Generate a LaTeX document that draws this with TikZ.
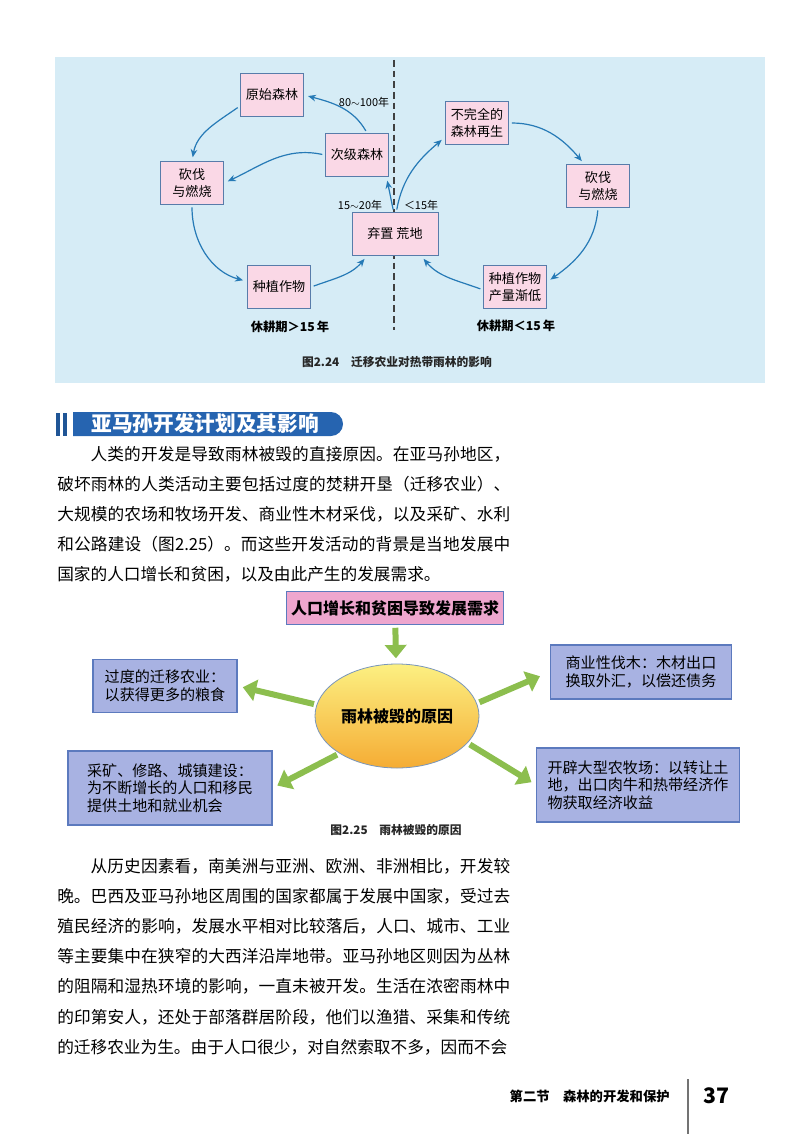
\documentclass[tikz,border=0pt]{standalone}
\usepackage{fontspec}
\setmainfont{Noto Sans CJK SC}
\usetikzlibrary{arrows.meta, positioning, shapes.geometric}
\XeTeXlinebreaklocale "zh"
\XeTeXlinebreakskip=0pt plus 2pt

\definecolor{panelblue}{RGB}{214,236,246}
\definecolor{stagepink}{RGB}{250,216,230}
\definecolor{stageedge}{RGB}{88,124,170}
\definecolor{flowblue}{RGB}{38,122,182}
\definecolor{bannerblue}{RGB}{38,100,176}
\definecolor{causeblue}{RGB}{168,178,226}
\definecolor{causeedge}{RGB}{92,122,190}
\definecolor{needpink}{RGB}{238,166,206}
\definecolor{leafgreen}{RGB}{140,190,78}
\definecolor{sunyellow}{RGB}{252,240,130}
\definecolor{sunorange}{RGB}{245,172,52}

\begin{document}
\begin{tikzpicture}[
  x=0.75pt, y=0.75pt,
  font=\fontsize{9.4}{12}\selectfont,
  stage/.style={draw=stageedge, fill=stagepink, line width=0.7pt, align=center,
                minimum width=47.5pt, minimum height=32pt, inner sep=1pt,
                font=\fontsize{9.8}{12.2}\selectfont},
  flow/.style={draw=flowblue, line width=0.9pt, -{Stealth[length=6pt, width=5pt]},
               shorten <=2pt, shorten >=3pt},
  years/.style={inner sep=1pt, font=\fontsize{8.2}{10}\selectfont},
  fallow/.style={font=\bfseries\fontsize{9.2}{11}\selectfont},
  figcap/.style={font=\bfseries\fontsize{8.8}{10}\selectfont, text=black!85},
  body/.style={anchor=north west, inner sep=0pt, text width=339.75pt, align=justify,
               font=\fontsize{12.5}{22.6}\selectfont},
  cause/.style={draw=causeedge, fill=causeblue, line width=0.9pt, align=left,
                inner sep=3pt, font=\fontsize{11.3}{13.1}\selectfont},
  push/.style={draw=leafgreen, line width=4.5pt, -{Triangle[length=10pt, width=16pt]},
               shorten <=2pt, shorten >=4pt}]

  \useasboundingbox (0,0) rectangle (800,-1134);

  % figure 2.24
  \fill[panelblue] (55,-57) rectangle (765,-383);
  \draw[black!75, line width=0.8pt, dash pattern=on 5pt off 3pt] (394,-60) -- (394,-330);

  \node[stage] (orig) at (272,-95) {原始森林};
  \node[stage] (sec) at (357,-155) {次级森林};
  \node[stage] (cut1) at (192,-183) {砍伐\\与燃烧};
  \node[stage] (crop1) at (279,-287) {种植作物};
  \node[stage, minimum width=64.5pt] (waste) at (395,-234) {弃置\ 荒地};
  \node[stage] (regen) at (477,-123) {不完全的\\森林再生};
  \node[stage] (cut2) at (598,-186) {砍伐\\与燃烧};
  \node[stage] (crop2) at (515,-287) {种植作物\\产量渐低};

  % long fallow
  \draw[flow] (orig.199) to[out=215, in=80] (cut1.north);
  \draw[flow] (cut1.south) to[out=270, in=165] (crop1.170);
  \draw[flow] (crop1.east) to[out=20, in=230] (waste.218);
  \draw[flow] ([xshift=-1pt]waste.north) -- ([xshift=-2pt]sec.south east);
  \draw[flow] (sec.65) to[out=120, in=-15] (orig.east);
  \draw[flow] (sec.west) to[out=168, in=25] (cut1.east);

  % short fallow
  \draw[flow] ([xshift=1pt]waste.north) to[out=80, in=220] (regen.204);
  \draw[flow] (regen.east) to[out=0, in=130] (cut2.122);
  \draw[flow] (cut2.south) to[out=265, in=35] (crop2.9);
  \draw[flow] (crop2.185) to[out=160, in=-50] (waste.-40);

  \node[years] (y80) at (364,-102) {80$\sim$100年};
  \node[years] (y15) at (360,-205) {15$\sim$20年};
  \node[years] (ylt) at (421,-205) {＜15年};
  \node[fallow] (longf) at (290,-327) {休耕期＞15\,年};
  \node[fallow] (shortf) at (516,-326) {休耕期＜15\,年};
  \node[figcap] (cap24) at (397,-362) {图2.24\quad 迁移农业对热带雨林的影响};

  % section heading
  \fill[bannerblue!85!black] (56,-413) rectangle (59.5,-436);
  \fill[bannerblue!85!black] (63,-413) rectangle (67,-436);
  \fill[bannerblue] (73,-412) -- (331,-412) arc[start angle=90, end angle=-90, radius=12]
    -- (73,-436) -- cycle;
  \node[text=white, font=\bfseries\fontsize{15.5}{17}\selectfont] (head) at (205,-424)
    {亚马孙开发计划及其影响};

  \node[body] (para1) at (57,-446) {\hspace*{2em}人类的开发是导致雨林被毁的直接原因。在亚马孙地区，\linebreak
    破坏雨林的人类活动主要包括过度的焚耕开垦（迁移农业）、\linebreak
    大规模的农场和牧场开发、商业性木材采伐，以及采矿、水利\linebreak
    和公路建设（图2.25）。而这些开发活动的背景是当地发展中\linebreak
    国家的人口增长和贫困，以及由此产生的发展需求。};

  % figure 2.25
  \node[draw=causeedge, fill=needpink, line width=0.9pt, minimum width=162pt,
        minimum height=24.75pt, font=\bfseries\fontsize{12}{14}\selectfont] (need) at (395,-608)
    {人口增长和贫困导致发展需求};
  \node[ellipse, draw=stageedge!80, line width=0.6pt, minimum width=123pt, minimum height=78pt,
        top color=sunyellow, bottom color=sunorange, inner sep=0pt,
        font=\bfseries\fontsize{12}{14}\selectfont] (cause) at (397,-716) {雨林被毁的原因};

  \node[cause, minimum width=108pt, minimum height=40pt] (shift) at (165,-686)
    {过度的迁移农业：\\以获得更多的粮食};
  \node[cause, minimum width=153pt, minimum height=55.5pt] (mine) at (170,-788)
    {采矿、修路、城镇建设：\\为不断增长的人口和移民\\提供土地和就业机会};
  \node[cause, minimum width=136pt, minimum height=40.5pt] (logging) at (641,-672)
    {商业性伐木：木材出口\\换取外汇，以偿还债务};
  \node[cause, minimum width=152pt, minimum height=55.5pt] (ranch) at (638,-785)
    {开辟大型农牧场：以转让土\\地，出口肉牛和热带经济作\\物获取经济收益};

  \draw[push] (need) -- (cause);
  \draw[push] (cause.172) -- (shift.east);
  \draw[push] (cause.213) -- (mine.east);
  \draw[push, shorten >=8pt] (cause.9) -- (logging.west);
  \draw[push] (cause.-21) -- (ranch.west);

  \node[figcap] (cap25) at (396,-830) {图2.25\quad 雨林被毁的原因};

  \node[body] (para2) at (57,-858) {\hspace*{2em}从历史因素看，南美洲与亚洲、欧洲、非洲相比，开发较\linebreak
    晚。巴西及亚马孙地区周围的国家都属于发展中国家，受过去\linebreak
    殖民经济的影响，发展水平相对比较落后，人口、城市、工业\linebreak
    等主要集中在狭窄的大西洋沿岸地带。亚马孙地区则因为丛林\linebreak
    的阻隔和湿热环境的影响，一直未被开发。生活在浓密雨林中\linebreak
    的印第安人，还处于部落群居阶段，他们以渔猎、采集和传统\linebreak
    的迁移农业为生。由于人口很少，对自然索取不多，因而不会};

  % footer
  \node[anchor=west, font=\bfseries\fontsize{10}{12}\selectfont] (chapter) at (505,-1096)
    {第二节\quad 森林的开发和保护};
  \draw[black!55, line width=0.8pt] (688,-1079) -- (688,-1134);
  \node[anchor=west, font=\bfseries\fontsize{16}{18}\selectfont] (pageno) at (699,-1096) {37};
\end{tikzpicture}
\end{document}
